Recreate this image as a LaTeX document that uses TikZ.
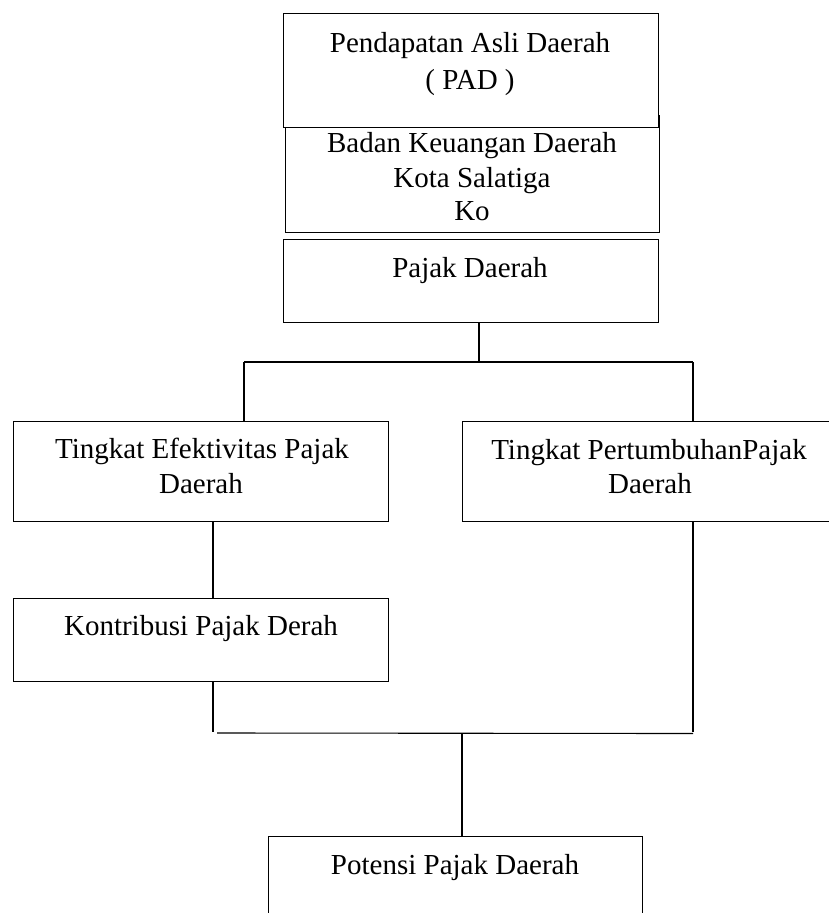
\documentclass[tikz,border=0pt]{standalone}
\usepackage{fontspec}
\setmainfont{Liberation Serif}
\tikzset{
  boxnode/.style={draw, line width=1.1pt, fill=white, rectangle, inner sep=0pt, anchor=north west},
  txt/.style={anchor=base, inner sep=0pt, font=\fontsize{29}{35}\selectfont},
  conn/.style={line width=1.1pt}
}
\begin{document}
\begin{tikzpicture}[x=1pt,y=-1pt]
\useasboundingbox (0,0) rectangle (829,913);
\clip (0,0) rectangle (829,913);
% boxes
\node[boxnode, minimum width=374pt, minimum height=117pt] (bkd) at (285,115) {};
\node[boxnode, minimum width=375pt, minimum height=114pt] (pad) at (283,13) {};
\node[boxnode, minimum width=375pt, minimum height=83pt] (pjk) at (283,239) {};
\node[boxnode, minimum width=375pt, minimum height=100pt] (tef) at (13,421) {};
\node[boxnode, minimum width=375pt, minimum height=100pt] (tpe) at (462,421) {};
\node[boxnode, minimum width=375pt, minimum height=83pt] (kon) at (13,598) {};
\node[boxnode, minimum width=374pt, minimum height=100pt] (pot) at (268,836) {};
% texts
\node[txt] (padt1) at (470,52) {Pendapatan Asli Daerah};
\node[txt] (padt2) at (470,89) {( PAD )};
\node[txt] (bkdt1) at (472,152) {Badan Keuangan Daerah};
\node[txt] (bkdt2) at (472,187) {Kota Salatiga};
\node[txt] (bkdt3) at (472,220) {Ko};
\node[txt] (pjkt) at (470,277) {Pajak Daerah};
\node[txt] (teft1) at (202,458) {Tingkat Efektivitas Pajak};
\node[txt] (teft2) at (201,493) {Daerah};
\node[txt] (tpet1) at (649,459) {Tingkat PertumbuhanPajak};
\node[txt] (tpet2) at (650,493) {Daerah};
\node[txt] (kont) at (201,635) {Kontribusi Pajak Derah};
\node[txt] (pott) at (455,874) {Potensi Pajak Daerah};
% junction coordinates
\coordinate (j1) at (479,362);
\coordinate (jl) at (244,362);
\coordinate (jr) at (693,362);
\coordinate (ka) at (213,560);
\coordinate (kb) at (213,732);
\coordinate (hb1) at (217,733);
\coordinate (hb2) at (693,733.5);
\coordinate (rb) at (693,732);
\coordinate (mb) at (462,733.5);
% connectors
\draw[conn] (pjk.south -| j1) -- (j1);
\draw[conn] (jl) -- (jr);
\draw[conn] (jl) -- (jl |- tef.north);
\draw[conn] (jr) -- (jr |- tpe.north);
\draw[conn] (tef.south -| ka) -- (kon.north -| ka);
\draw[conn] (kon.south -| kb) -- (kb);
\draw[conn] (hb1) -- (hb2);
\draw[conn] (tpe.south -| rb) -- (rb);
\draw[conn] (mb) -- (pot.north -| mb);
\end{tikzpicture}
\end{document}
